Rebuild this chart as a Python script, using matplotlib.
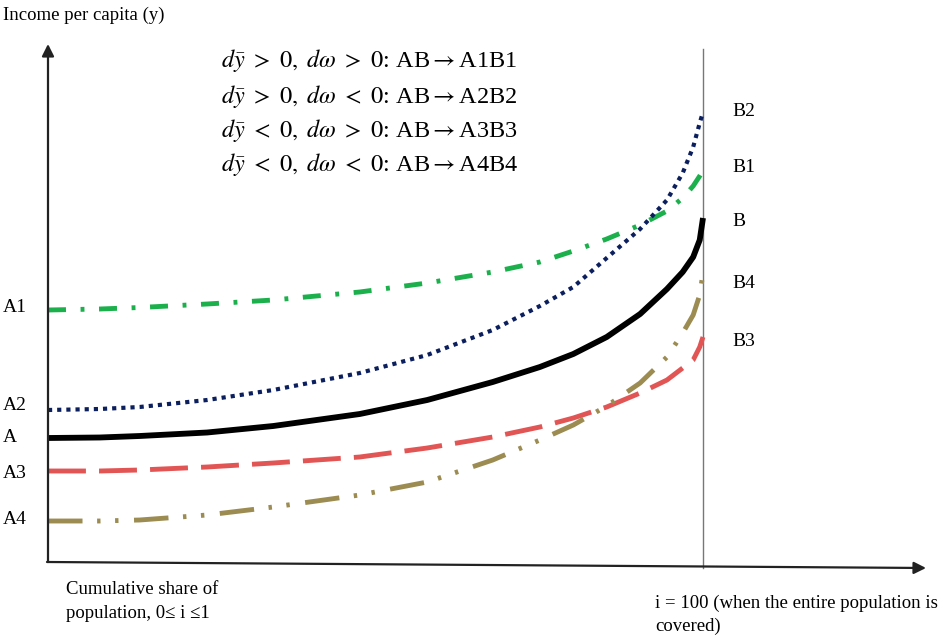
"""
Income per capita curves: how AB shifts when mean income and inequality change.
"""

import numpy as np
import matplotlib
matplotlib.use("Agg")
import matplotlib.pyplot as plt

plt.rcParams["font.family"] = ["Liberation Serif", "DejaVu Serif"]
plt.rcParams["mathtext.fontset"] = "stix"

# cumulative share of population (0 .. 1, 1 = whole population covered)
share = [0.0, 0.079, 0.140, 0.243, 0.344, 0.476, 0.579, 0.679, 0.751,
         0.802, 0.853, 0.904, 0.945, 0.969, 0.985, 0.995, 1.0]

# income per capita along each curve (arbitrary units)
income_ab = [12.4, 12.45, 12.6, 12.95, 13.6, 14.8, 16.2, 18.0, 19.5,
             20.8, 22.5, 24.8, 27.3, 29.0, 30.5, 32.2, 34.4]
income_a1b1 = [25.2, 25.3, 25.45, 25.8, 26.2, 27.0, 27.9, 29.0, 30.0,
               31.1, 32.3, 33.7, 35.1, 36.4, 37.6, 38.6, 39.2]
income_a2b2 = [15.2, 15.3, 15.5, 16.2, 17.2, 18.9, 20.7, 23.2, 25.6,
               27.5, 30.4, 33.3, 36.2, 38.9, 41.5, 43.9, 45.0]
income_a3b3 = [9.1, 9.1, 9.2, 9.5, 9.9, 10.5, 11.4, 12.5, 13.5,
               14.4, 15.5, 16.9, 18.2, 19.4, 20.2, 21.5, 22.5]
income_a4b4 = [4.1, 4.1, 4.2, 4.7, 5.5, 6.7, 8.0, 10.2, 12.2,
               13.7, 15.6, 17.9, 20.5, 22.9, 24.7, 26.7, 28.9]

start_labels = ["A1", "A2", "A", "A3", "A4"]
end_labels = ["B2", "B1", "B", "B4", "B3"]

legend_lines = [
    r"$d\bar{y}\ >\ 0,\ d\omega\ >\ 0$: AB$\rightarrow$A1B1",
    r"$d\bar{y}\ >\ 0,\ d\omega\ <\ 0$: AB$\rightarrow$A2B2",
    r"$d\bar{y}\ <\ 0,\ d\omega\ >\ 0$: AB$\rightarrow$A3B3",
    r"$d\bar{y}\ <\ 0,\ d\omega\ <\ 0$: AB$\rightarrow$A4B4",
]

W, H = 941, 637
X0, X1, Y0 = 48, 703, 562   # pixel positions of origin / full coverage


def pix(x, y):
    """pixel position -> data coords"""
    return (x - X0) / (X1 - X0), (Y0 - y) / 10.0


fig = plt.figure(figsize=(W / 100, H / 100), dpi=100)
ax = fig.add_axes([0, 0, 1, 1])
ax.set_xlim(pix(0, 0)[0], pix(W, 0)[0])
ax.set_ylim(pix(0, H)[1], pix(0, 0)[1])
ax.axis("off")

# axes with arrows
ax.annotate("", xy=pix(X0, 44), xytext=pix(X0, Y0),
            arrowprops=dict(arrowstyle="-|>", lw=1.6, color="#222222",
                            mutation_scale=18, shrinkA=0, shrinkB=0))
ax.annotate("", xy=pix(926, 568), xytext=pix(X0 - 1, Y0),
            arrowprops=dict(arrowstyle="-|>", lw=1.6, color="#222222",
                            mutation_scale=18, shrinkA=0, shrinkB=0))
# full population line
ax.plot([1, 1], [pix(0, 568)[1], pix(0, 49)[1]], color="#777777", lw=1.0)

x = np.array(share)
ax.plot(x, income_a1b1, color="#1cb04c", lw=3.5,
        dashes=(3.7, 3.0, 0.8, 3.0))
ax.plot(x, income_a2b2, color="#0b1f5e", lw=3.0,
        dashes=(1.0, 1.2))
ax.plot(x, income_a3b3, color="#e25555", lw=3.5,
        dashes=(7.8, 2.7))
ax.plot(x, income_a4b4, color="#9c8c52", lw=3.5,
        dashes=(7.1, 3.0, 0.7, 3.0, 0.7, 3.2))
ax.plot(x, income_ab, color="black", lw=4.2, solid_capstyle="butt",
        solid_joinstyle="round")

# curve end labels
for lab, py in zip(start_labels, [308, 405, 438, 473, 520]):
    ax.text(*pix(3, py), lab, fontsize=14, va="center", ha="left")
for lab, py in zip(end_labels, [111, 168, 221, 283, 342]):
    ax.text(*pix(732, py), lab, fontsize=14, va="center", ha="left")

for line, py in zip(legend_lines, [60, 96, 131, 164]):
    ax.text(*pix(221, py), line, fontsize=17.5, va="center", ha="left")

ax.text(*pix(3, 15), "Income per capita (y)", fontsize=13.5,
        va="center", ha="left")
ax.text(*pix(66, 590), "Cumulative share of", fontsize=13.5,
        va="center", ha="left")
ax.text(*pix(66, 613), "population, 0≤ i ≤1", fontsize=13.5,
        va="center", ha="left")
ax.text(*pix(655, 603), "i = 100 (when the entire population is",
        fontsize=13.5, va="center", ha="left")
ax.text(*pix(655, 626), "covered)", fontsize=13.5, va="center", ha="left")

fig.savefig("out.png", dpi=100)
plt.close(fig)
